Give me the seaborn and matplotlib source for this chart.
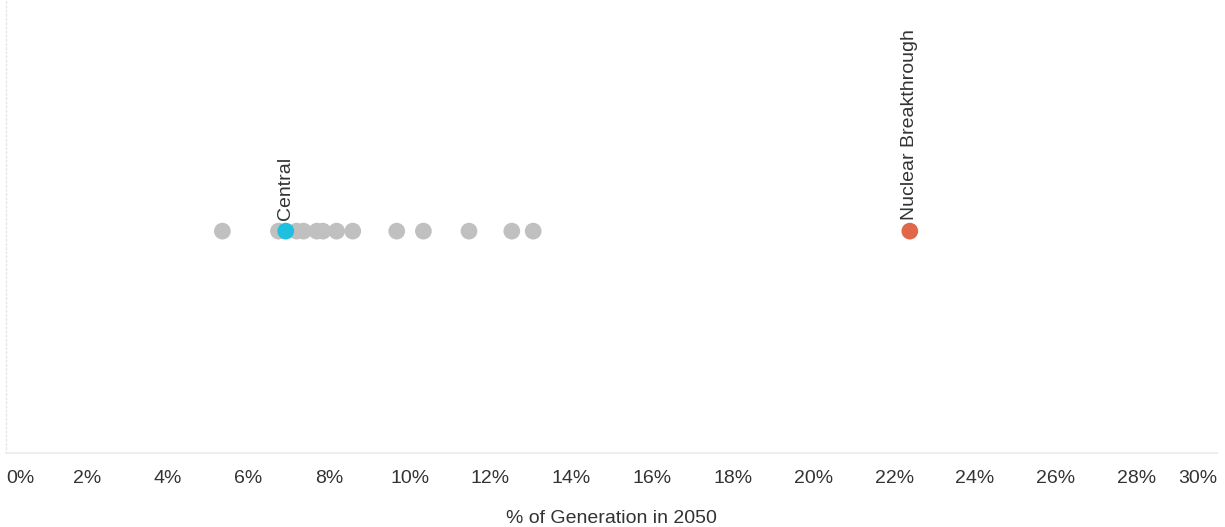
import pandas as pd
import matplotlib
matplotlib.use('Agg')
import matplotlib.pyplot as plt
import seaborn as sns

# % of generation in 2050 per scenario
scenarios = ['S1', 'S2', 'Central', 'S4', 'S5', 'S6', 'S7', 'S8', 'S9',
             'S10', 'S11', 'S12', 'S13', 'S14', 'Nuclear Breakthrough']
share = [5.36, 6.75, 6.93, 7.20, 7.37, 7.70, 7.85, 8.19, 8.59,
         9.68, 10.34, 11.47, 12.53, 13.06, 22.39]
groups = ['other'] * 2 + ['central'] + ['other'] * 11 + ['nuclear']
labelled = ['Central', 'Nuclear Breakthrough']

tick_vals = list(range(0, 31, 2))
tick_labels = [f'{v}%' for v in tick_vals]

df = pd.DataFrame({'scenario': scenarios, 'share': share, 'group': groups, 'y': 0})

sns.set_style('white')
plt.rcParams['font.family'] = ['Liberation Sans', 'DejaVu Sans']
text_col = '#333333'

fig = plt.figure(figsize=(12.25, 5.27), dpi=100)
ax = fig.add_axes([6 / 1225, 74 / 527, 1211 / 1225, 453 / 527])

palette = {'other': '#bfc0bf', 'central': '#1fbfe0', 'nuclear': '#e0674a'}
# grey ones first so the highlighted ones sit on top
df['order'] = df['group'].map({'other': 0, 'central': 1, 'nuclear': 1})
df = df.sort_values('order')
sns.scatterplot(data=df, x='share', y='y', hue='group', palette=palette,
                s=145, edgecolor='none', legend=False, ax=ax, zorder=3)

for name in labelled:
    row = df[df['scenario'] == name].iloc[0]
    ax.annotate(name, (row['share'], 0), xytext=(0, 8), textcoords='offset points',
                rotation=90, ha='center', va='bottom', fontsize=14, color=text_col)

ax.set_xlim(0, 30)
ax.set_ylim(-0.96, 1)
ax.set_yticks([])
ax.set_ylabel('')
ax.set_xticks(tick_vals)
ax.set_xticklabels(tick_labels, fontsize=14, color=text_col)
tl = ax.get_xticklabels()
tl[0].set_ha('left')
tl[-1].set_ha('right')
ax.tick_params(axis='x', length=5, color='#eeeeee', pad=7)
ax.set_xlabel('% of Generation in 2050', fontsize=14, color=text_col, labelpad=17)

for side in ['top', 'right']:
    ax.spines[side].set_visible(False)
ax.spines['bottom'].set_color('#eeeeee')
ax.spines['bottom'].set_linewidth(1.5)
ax.spines['left'].set_color('#e6e6e6')
ax.spines['left'].set_linestyle((0, (1, 2)))
ax.spines['left'].set_linewidth(1)

fig.savefig('out.png', dpi=100)
